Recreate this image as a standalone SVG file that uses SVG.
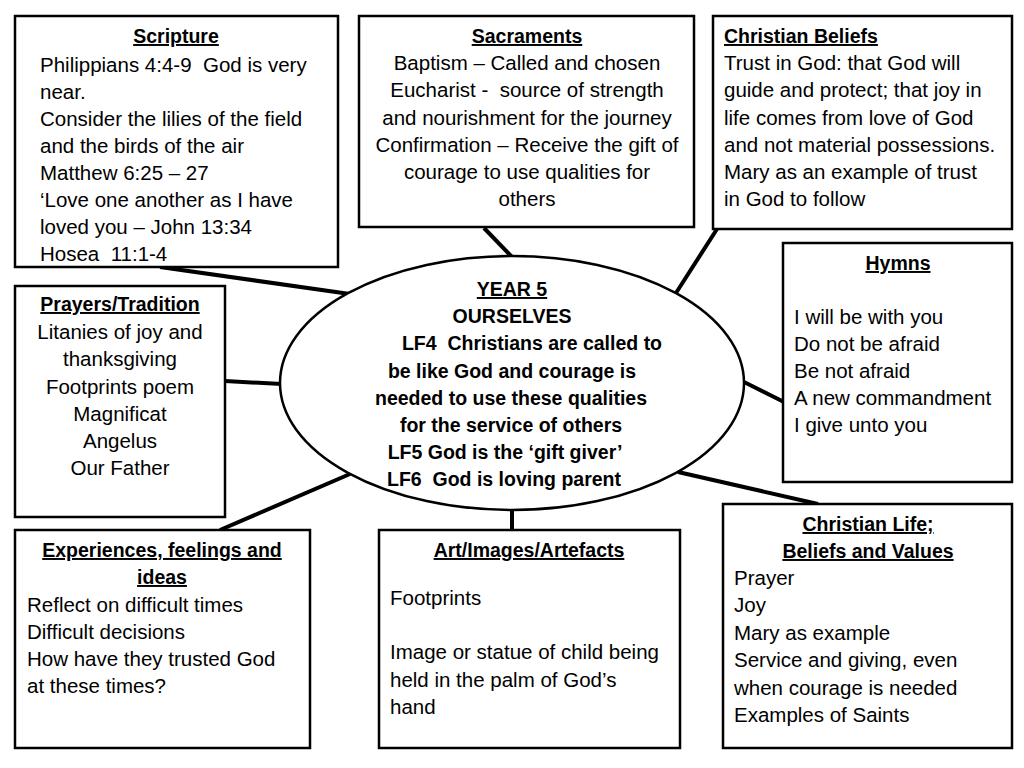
<svg xmlns="http://www.w3.org/2000/svg" width="1024" height="768" viewBox="0 0 1024 768">
<style>
.box{fill:#fff;stroke:#000;stroke-width:2.5}
.con line{stroke:#000;stroke-width:4;stroke-linecap:butt}
text{font-family:"Liberation Sans",Arial,sans-serif;font-size:20.5px;fill:#000;white-space:pre}
.t{font-weight:bold;text-decoration:underline;font-size:19.5px}
.b{font-weight:bold;font-size:19.5px}
.c{text-anchor:middle}
</style>
<rect width="1024" height="768" fill="#fff"/>
<g class="con" id="connectors">
<line x1="160" y1="267" x2="350" y2="294"/>
<line x1="484" y1="228" x2="512" y2="257"/>
<line x1="717" y1="229" x2="676" y2="293"/>
<line x1="225" y1="381" x2="282" y2="384"/>
<line x1="744" y1="382" x2="784" y2="402"/>
<line x1="220" y1="530" x2="350" y2="474"/>
<line x1="512" y1="508" x2="512" y2="531"/>
<line x1="678" y1="472" x2="818" y2="504"/>
</g>
<g id="scripture">
<rect class="box" x="15" y="16" width="323" height="251"/>
<text class="t c" x="176" y="43">Scripture</text>
<text x="40" y="72">Philippians 4:4-9  God is very</text>
<text x="40" y="99">near.</text>
<text x="40" y="126">Consider the lilies of the field</text>
<text x="40" y="153">and the birds of the air</text>
<text x="40" y="180">Matthew 6:25 – 27</text>
<text x="40" y="207">‘Love one another as I have</text>
<text x="40" y="234">loved you – John 13:34</text>
<text x="40" y="261">Hosea  11:1-4</text>
</g>
<g id="sacraments">
<rect class="box" x="359" y="16" width="335" height="211"/>
<text class="t c" x="527" y="43">Sacraments</text>
<text class="c" x="527" y="70">Baptism – Called and chosen</text>
<text class="c" x="527" y="97">Eucharist -  source of strength</text>
<text class="c" x="527" y="125">and nourishment for the journey</text>
<text class="c" x="527" y="152">Confirmation – Receive the gift of</text>
<text class="c" x="527" y="179">courage to use qualities for</text>
<text class="c" x="527" y="206">others</text>
</g>
<g id="christian-beliefs">
<rect class="box" x="713" y="16" width="299" height="213"/>
<text class="t" x="724" y="43">Christian Beliefs</text>
<text x="724" y="70">Trust in God: that God will</text>
<text x="724" y="97">guide and protect; that joy in</text>
<text x="724" y="125">life comes from love of God</text>
<text x="724" y="152">and not material possessions.</text>
<text x="724" y="179">Mary as an example of trust</text>
<text x="724" y="206">in God to follow</text>
</g>
<g id="hymns">
<rect class="box" x="783" y="243" width="229" height="239"/>
<text class="t c" x="898" y="270">Hymns</text>
<text x="794" y="324">I will be with you</text>
<text x="794" y="351">Do not be afraid</text>
<text x="794" y="378">Be not afraid</text>
<text x="794" y="405">A new commandment</text>
<text x="794" y="432">I give unto you</text>
</g>
<g id="prayers-tradition">
<rect class="box" x="15" y="286" width="210" height="231"/>
<text class="t c" x="120" y="311">Prayers/Tradition</text>
<text class="c" x="120" y="339">Litanies of joy and</text>
<text class="c" x="120" y="366">thanksgiving</text>
<text class="c" x="120" y="394">Footprints poem</text>
<text class="c" x="120" y="421">Magnificat</text>
<text class="c" x="120" y="448">Angelus</text>
<text class="c" x="120" y="475">Our Father</text>
</g>
<g id="year5">
<ellipse cx="512" cy="383" rx="232" ry="127" fill="#fff" stroke="#000" stroke-width="2.5"/>
<text class="t c" x="512" y="296">YEAR 5</text>
<text class="b c" x="512" y="323">OURSELVES</text>
<text class="b c" x="532" y="350">LF4  Christians are called to</text>
<text class="b c" x="512" y="378">be like God and courage is</text>
<text class="b c" x="511" y="405">needed to use these qualities</text>
<text class="b c" x="511" y="432">for the service of others</text>
<text class="b c" x="505" y="459">LF5 God is the ‘gift giver’</text>
<text class="b c" x="504" y="486">LF6  God is loving parent</text>
</g>
<g id="experiences">
<rect class="box" x="15" y="530" width="295" height="218"/>
<text class="t c" x="162" y="557">Experiences, feelings and</text>
<text class="t c" x="162" y="584">ideas</text>
<text x="27" y="612">Reflect on difficult times</text>
<text x="27" y="639">Difficult decisions</text>
<text x="27" y="666">How have they trusted God</text>
<text x="27" y="693">at these times?</text>
</g>
<g id="art">
<rect class="box" x="379" y="530" width="301" height="218"/>
<text class="t c" x="529" y="557">Art/Images/Artefacts</text>
<text x="390" y="605">Footprints</text>
<text x="390" y="659">Image or statue of child being</text>
<text x="390" y="687">held in the palm of God’s</text>
<text x="390" y="714">hand</text>
</g>
<g id="christian-life">
<rect class="box" x="723" y="504" width="289" height="244"/>
<text class="t c" x="868" y="531">Christian Life;</text>
<text class="t c" x="868" y="558">Beliefs and Values</text>
<text x="734" y="585">Prayer</text>
<text x="734" y="612">Joy</text>
<text x="734" y="640">Mary as example</text>
<text x="734" y="667">Service and giving, even</text>
<text x="734" y="695">when courage is needed</text>
<text x="734" y="722">Examples of Saints</text>
</g>
</svg>
